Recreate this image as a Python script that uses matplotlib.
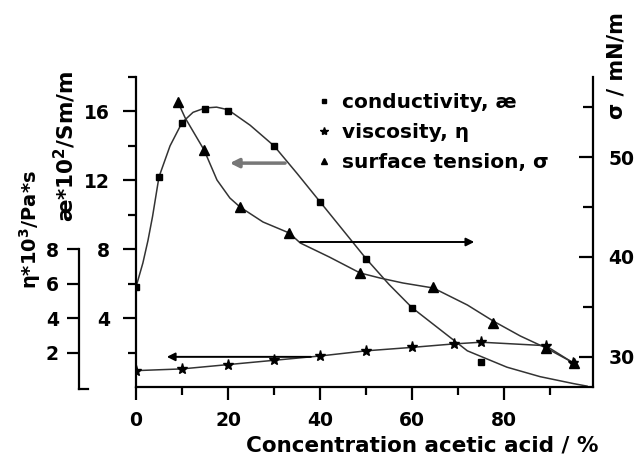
import numpy as np
import matplotlib
matplotlib.use("Agg")
import matplotlib.pyplot as plt
from matplotlib.lines import Line2D
from matplotlib.ticker import MultipleLocator, FixedLocator, FuncFormatter
import matplotlib.transforms as mtransforms

plt.rcParams['font.family'] = ['DejaVu Sans']
plt.rcParams['font.weight'] = 'bold'
plt.rcParams['font.size'] = 13.5

# conductivity (left axis, x10^2 S/m)
cond_x = [0, 5, 10, 15, 20, 30, 40, 50, 60, 75]
cond_y = [5.8, 12.2, 15.35, 16.15, 16.05, 14.0, 10.75, 7.45, 4.6, 1.45]
# conductivity fit curve
cond_fit_x = [0, 1.5, 2.6, 3.6, 5, 7.4, 10, 12.4, 15, 17.5, 20, 24.8, 30, 35, 40,
              45, 50, 55, 60, 66, 72, 80.6, 87.8, 95, 98]
cond_fit_y = [5.8, 7.2, 8.5, 9.9, 12.2, 14.0, 15.35, 15.95, 16.2, 16.25, 16.1, 15.2,
              14.0, 12.4, 10.75, 9.1, 7.45, 5.95, 4.6, 3.35, 2.1, 1.15, 0.6, 0.2, 0.05]

# viscosity (x10^3 Pa*s)
visc_x = [0, 10, 20, 30, 40, 50, 60, 69, 75, 89, 95]
visc_y = [0.95, 1.05, 1.3, 1.55, 1.8, 2.1, 2.3, 2.5, 2.6, 2.4, 1.4]

# surface tension (right axis, mN/m)
st_x = [9.1, 14.8, 22.6, 33.3, 48.7, 64.6, 77.6, 89.1, 95.1]
st_y = [55.5, 50.7, 45.0, 42.4, 38.4, 37.0, 33.4, 30.9, 29.4]
st_fit_x = [9.1, 10.7, 14.8, 17.6, 20.4, 22.6, 27.6, 33.3, 35.7, 42, 48.7, 53, 58,
            64.6, 72, 77.6, 83.5, 89.1, 95.1]
st_fit_y = [55.5, 53.9, 50.7, 47.7, 45.9, 45.0, 43.5, 42.4, 41.4, 40.0, 38.4, 37.9,
            37.4, 36.9, 35.2, 33.6, 32.1, 30.9, 29.4]

line_col = '#333333'
XMAX = 99.3

fig = plt.figure(figsize=(6.36, 4.57), dpi=100)
pos = [0.2138, 0.1532, 0.7186, 0.6783]
ax = fig.add_axes(pos)
ax2 = ax.twinx()
ax3 = fig.add_axes(pos)

# conductivity
ax.plot(cond_fit_x, cond_fit_y, color=line_col, lw=1.1, zorder=2)
ax.plot(cond_x, cond_y, 's', color='k', ms=4.5, zorder=3)

# surface tension
ax2.plot(st_fit_x, st_fit_y, color=line_col, lw=1.1)
ax2.plot(st_x, st_y, '^', color='k', ms=7.5)

# viscosity, drawn on the same scale as conductivity
ax3.plot(visc_x, visc_y, '-', color=line_col, lw=1.1)
ax3.plot(visc_x, visc_y, '*', color='k', ms=8)

for a in (ax, ax3):
    a.set_xlim(0, XMAX)
    a.set_ylim(0, 18)
ax2.set_ylim(27, 58)

for a in (ax, ax2, ax3):
    a.spines['top'].set_visible(False)
ax.spines['right'].set_visible(False)
for s in ('right', 'bottom'):
    ax3.spines[s].set_visible(False)
ax3.patch.set_visible(False)
ax3.xaxis.set_visible(False)
for s in ('left', 'bottom'):
    ax2.spines[s].set_visible(False)

for a in (ax, ax2, ax3):
    for sp in a.spines.values():
        sp.set_linewidth(1.6)

ax.xaxis.set_major_locator(MultipleLocator(20))
ax.xaxis.set_minor_locator(MultipleLocator(10))
ax.yaxis.set_major_locator(FixedLocator([4, 8, 12, 16]))
ax.yaxis.set_minor_locator(FixedLocator([2, 6, 10, 14, 18]))
ax.tick_params(which='major', direction='out', length=9.5, width=1.6, pad=8)
ax.tick_params(which='minor', direction='out', length=6, width=1.6)
ax.tick_params(axis='y', which='major', pad=9)

ax2.yaxis.set_major_locator(MultipleLocator(10))
ax2.yaxis.set_minor_locator(MultipleLocator(5))
ax2.tick_params(which='major', direction='in', length=10, width=1.6, pad=11)
ax2.tick_params(which='minor', direction='in', length=7, width=1.6)

# separate bracket axis for viscosity
ax3.spines['left'].set_position(('axes', -0.125))
ax3.spines['left'].set_bounds(-0.1, 8)
ax3.yaxis.set_major_locator(FixedLocator([2, 4, 6, 8]))
ax3.yaxis.set_minor_locator(FixedLocator([]))
ax3.tick_params(axis='y', direction='out', length=8.5, width=1.6, pad=6)
cap = mtransforms.blended_transform_factory(ax3.transAxes, ax3.transData)
ax3.plot([-0.125, -0.105], [-0.1, -0.1], color='k', lw=1.6,
         transform=cap, clip_on=False)

# arrows pointing at the axis each curve belongs to
ax.annotate('', xy=(20.4, 13.0), xytext=(32.4, 13.0),
            arrowprops=dict(arrowstyle='-|>', color='#777777', lw=2.5,
                            mutation_scale=13, shrinkA=0, shrinkB=0))
ax2.annotate('', xy=(73.5, 41.5), xytext=(35.7, 41.5),
             arrowprops=dict(arrowstyle='-|>', color='k', lw=1.4,
                             mutation_scale=12, shrinkA=0, shrinkB=0))
ax3.annotate('', xy=(6.7, 1.75), xytext=(38, 1.75),
             arrowprops=dict(arrowstyle='-|>', color='k', lw=1.4,
                             mutation_scale=12, shrinkA=0, shrinkB=0))

# axis titles
ax.set_xlabel('Concentration acetic acid / %', fontsize=15.5, fontweight='bold')
ax.xaxis.set_label_coords(0.626, -0.155)
fig.text(65 / 636, 1 - 146 / 457, 'æ*10$^{\\mathbf{2}}$/Sm/m', rotation=90,
         ha='center', va='center', fontsize=15.5)
fig.text(30 / 636, 1 - 230 / 457, 'η*10$^{\\mathbf{3}}$/Pa*s', rotation=90,
         ha='center', va='center', fontsize=14)
fig.text(617 / 636, 1 - 66 / 457, 'σ / mN/m', rotation=90,
         ha='center', va='center', fontsize=15)

handles = [Line2D([], [], ls='none', marker='s', color='k', ms=3),
           Line2D([], [], ls='none', marker='*', color='k', ms=6),
           Line2D([], [], ls='none', marker='^', color='k', ms=5)]
labels = ['conductivity, æ', 'viscosity, η', 'surface tension, σ']
ax2.legend(handles, labels, loc='upper left', bbox_to_anchor=(0.497, 0.797),
           bbox_transform=fig.transFigure, frameon=False, borderpad=0,
           borderaxespad=0, handlelength=0.8, handletextpad=0.5,
           labelspacing=0.55, fontsize=14.5)

fig.savefig('out.png', dpi=100)
